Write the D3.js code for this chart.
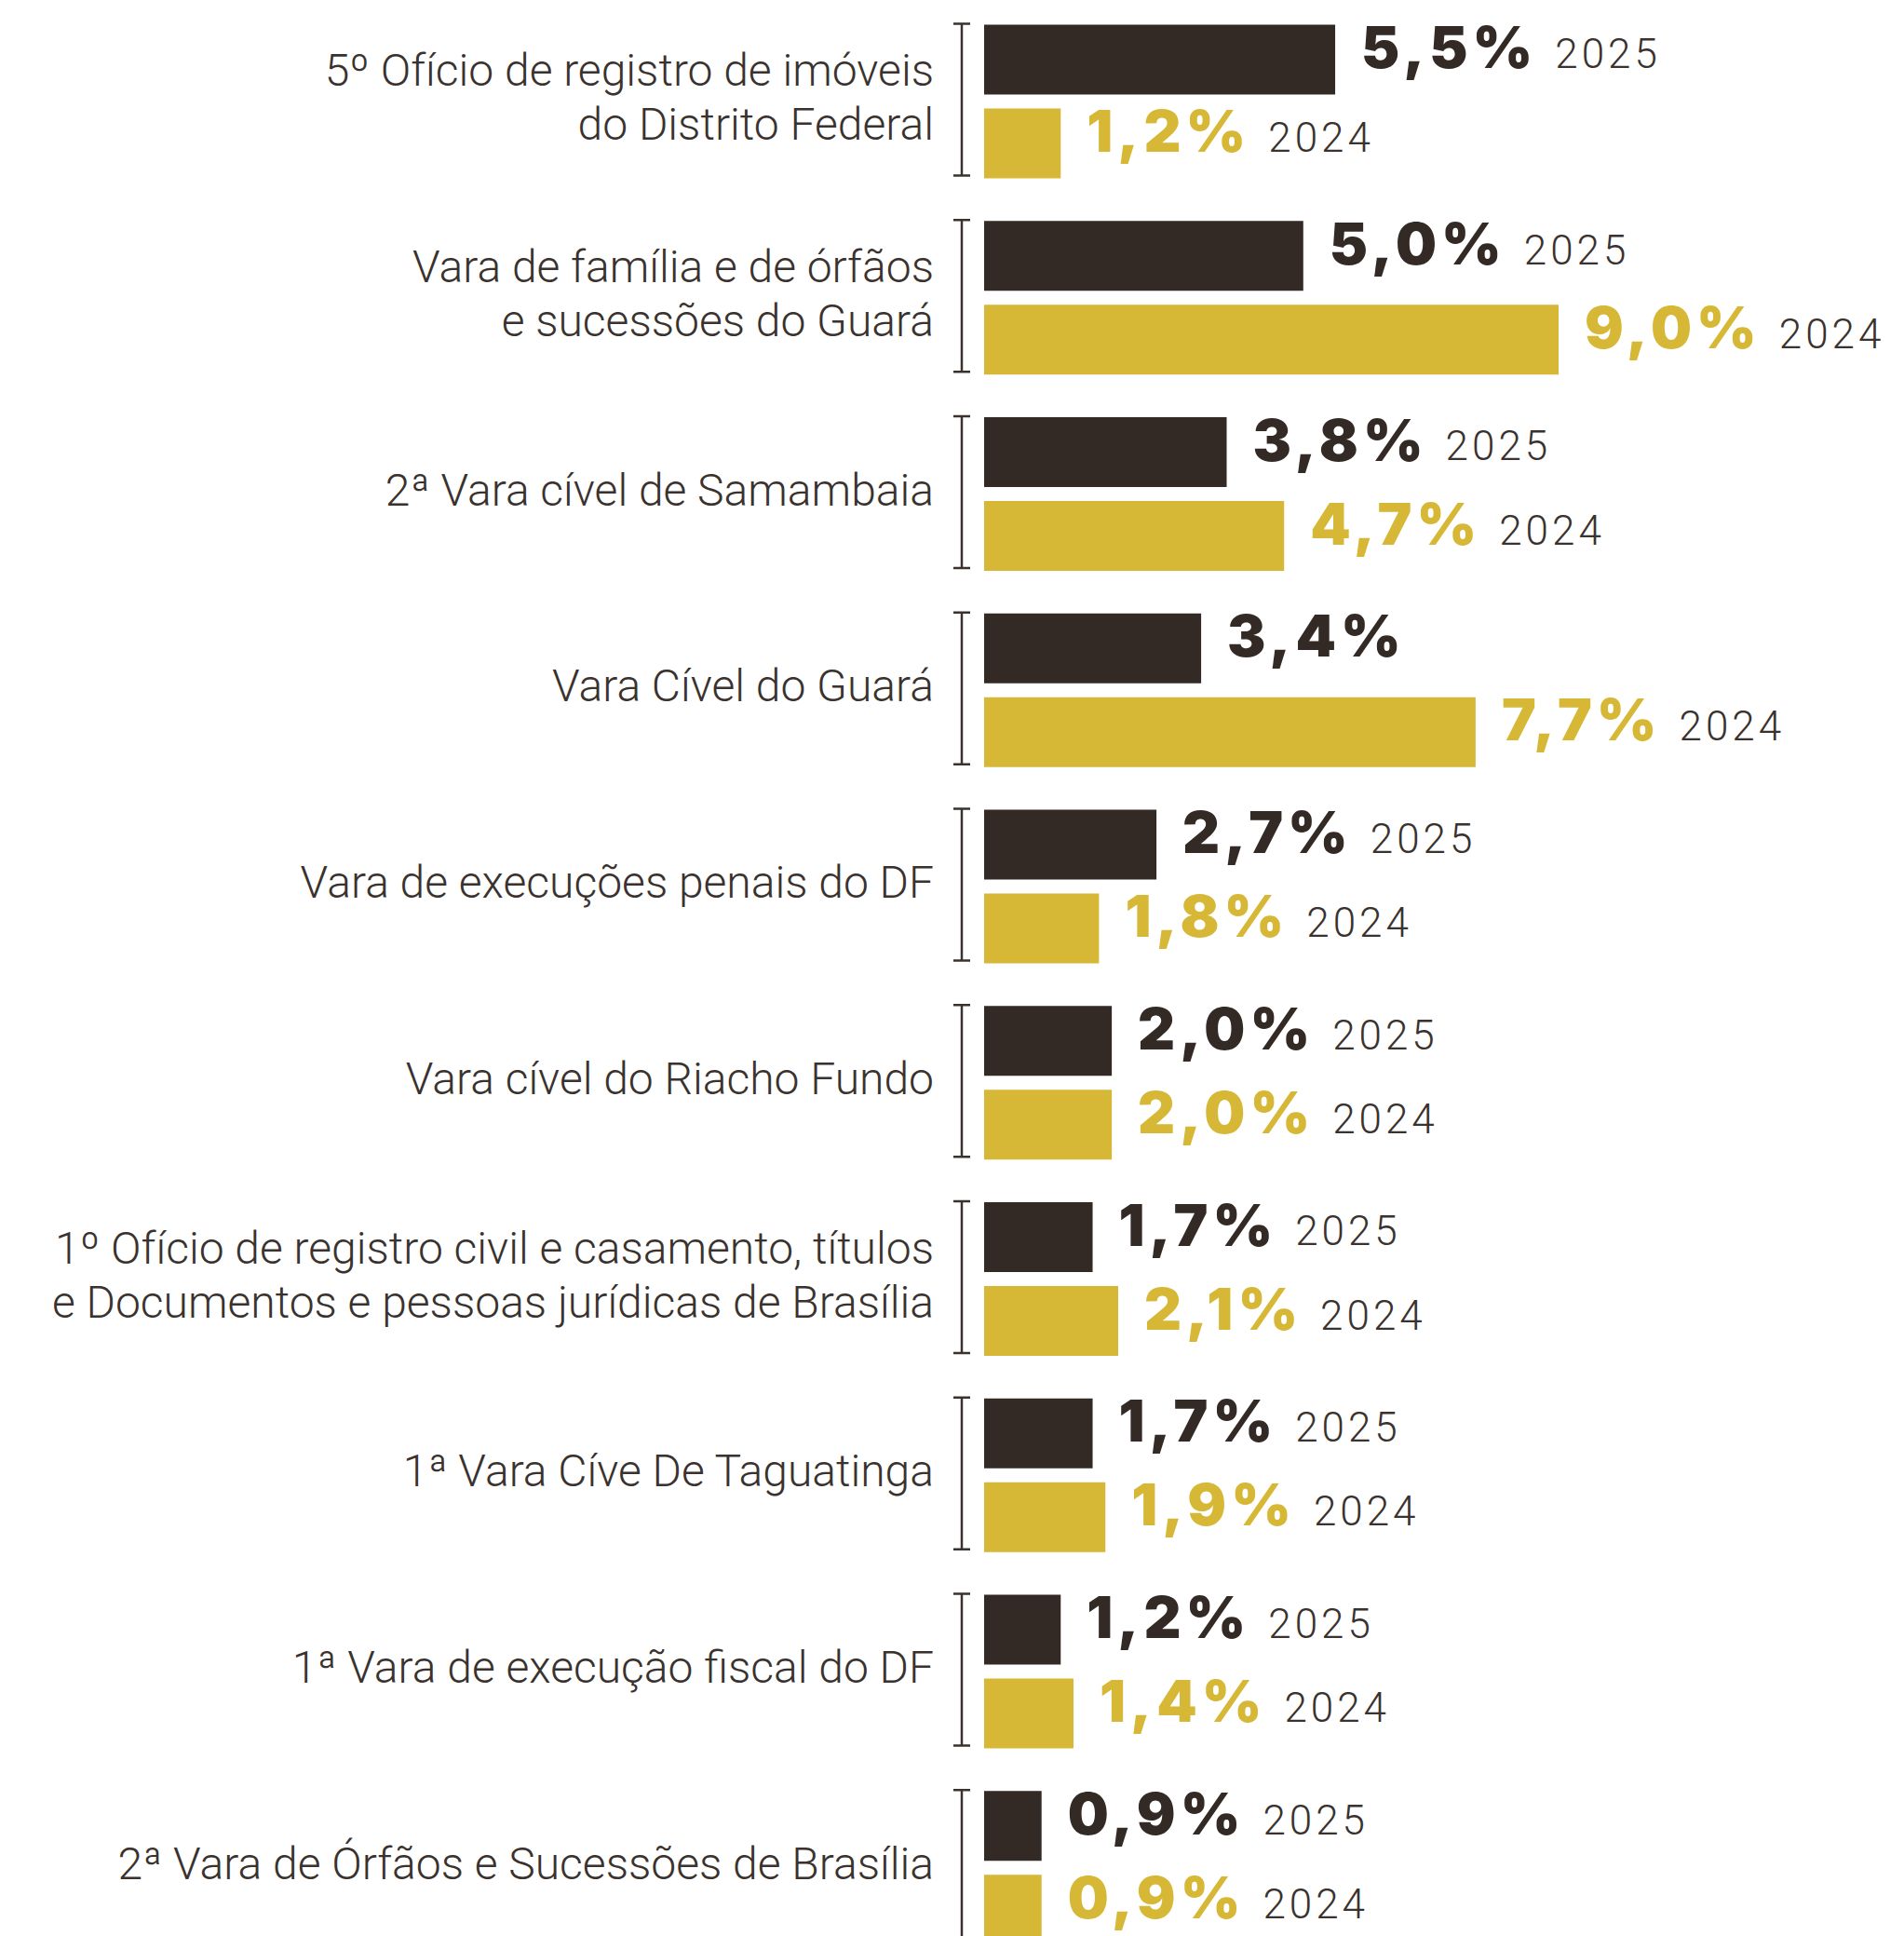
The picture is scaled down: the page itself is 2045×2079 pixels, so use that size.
<!DOCTYPE html>
<html lang="pt-BR">
<head>
<meta charset="utf-8">
<script src="https://cdn.jsdelivr.net/npm/d3@7"></script>
<style>
  html, body { margin: 0; padding: 0; background: #ffffff; }
  svg { display: block; }
</style>
</head>
<body>
<svg id="chart"></svg>
<script>
// Unidades do TJDFT e participação percentual em 2025 e 2024
const categories = [
  ["5º Ofício de registro de imóveis", "do Distrito Federal"],
  ["Vara de família e de órfãos", "e sucessões do Guará"],
  ["2ª Vara cível de Samambaia"],
  ["Vara Cível do Guará"],
  ["Vara de execuções penais do DF"],
  ["Vara cível do Riacho Fundo"],
  ["1º Ofício de registro civil e casamento, títulos", "e Documentos e pessoas jurídicas de Brasília"],
  ["1ª Vara Cíve De Taguatinga"],
  ["1ª Vara de execução fiscal do DF"],
  ["2ª Vara de Órfãos e Sucessões de Brasília"]
];
const values2025 = [5.5, 5.0, 3.8, 3.4, 2.7, 2.0, 1.7, 1.7, 1.2, 0.9];
const values2024 = [1.2, 9.0, 4.7, 7.7, 1.8, 2.0, 2.1, 1.9, 1.4, 0.9];
const years = ["2025", "2024"];
// the year tag beside each value (empty where none is printed)
const yearTags2025 = ["2025", "2025", "2025", "", "2025", "2025", "2025", "2025", "2025", "2025"];
const yearTags2024 = ["2024", "2024", "2024", "2024", "2024", "2024", "2024", "2024", "2024", "2024"];

const W = 2045, H = 2079;
const colors = { "2025": "#342a25", "2024": "#d6b836" };
const textColor = "#3a322e";

const svg = d3.select("#chart").attr("width", W).attr("height", H);
svg.append("rect").attr("width", W).attr("height", H).attr("fill", "#ffffff");

const ids = categories.map((c, i) => i);
const y = d3.scaleBand().domain(ids).range([25.5, 25.5 + 210.75 * ids.length]).padding(0);
const ySub = d3.scaleBand().domain(years).range([1, 166]).paddingInner(0.1667);
const x = d3.scaleLinear().domain([0, 9]).range([1057, 1057 + 617]);

const ptBR = d3.formatLocale({ decimal: ",", thousands: ".", grouping: [3], currency: ["R$", ""] });
const fmt = v => ptBR.format(".1f")(v) + "%";

const rows = ids.map(i => ({
  i,
  lines: categories[i],
  bars: [
    { year: "2025", value: values2025[i], tag: yearTags2025[i] },
    { year: "2024", value: values2024[i], tag: yearTags2024[i] }
  ]
}));

const groups = svg.selectAll("g.row").data(rows).join("g")
  .attr("class", "row")
  .attr("transform", d => `translate(0,${y(d.i)})`);

// bracket
const bx = 1033;
groups.append("line").attr("x1", bx).attr("x2", bx).attr("y1", 0).attr("y2", 163)
  .attr("stroke", textColor).attr("stroke-width", 2.5);
groups.append("line").attr("x1", bx - 9).attr("x2", bx + 9).attr("y1", 0).attr("y2", 0)
  .attr("stroke", textColor).attr("stroke-width", 2.5);
groups.append("line").attr("x1", bx - 9).attr("x2", bx + 9).attr("y1", 163).attr("y2", 163)
  .attr("stroke", textColor).attr("stroke-width", 2.5);

// category labels, right-aligned
const lineH = 58;
const mid = 82.5;
groups.each(function (d) {
  const g = d3.select(this);
  const n = d.lines.length;
  d.lines.forEach((line, k) => {
    const by = mid + 13 + (k - (n - 1) / 2) * lineH;
    g.append("text")
      .attr("x", 1003)
      .attr("y", by)
      .attr("text-anchor", "end")
      .attr("font-family", "Roboto, 'Noto Sans', sans-serif")
      .attr("font-weight", 300)
      .attr("font-size", 48)
      .attr("fill", textColor)
      .text(line);
  });
});

// bars
const bars = groups.selectAll("g.bar").data(d => d.bars).join("g").attr("class", "bar");
bars.append("rect")
  .attr("x", x(0))
  .attr("y", d => ySub(d.year))
  .attr("width", d => x(d.value) - x(0))
  .attr("height", ySub.bandwidth())
  .attr("fill", d => colors[d.year]);

// value labels and year tags
bars.each(function (d) {
  const g = d3.select(this);
  const base = ySub(d.year) + ySub.bandwidth() / 2 + 9;
  const val = g.append("text")
    .attr("x", x(d.value) + 28)
    .attr("y", base)
    .attr("font-family", "Inter, Lato, sans-serif")
    .attr("font-weight", 900)
    .attr("font-size", 62)
    .attr("letter-spacing", 5)
    .attr("fill", colors[d.year])
    .text(fmt(d.value));
  if (d.tag) {
    const w = val.node().getComputedTextLength();
    g.append("text")
      .attr("x", x(d.value) + 28 + w + 19)
      .attr("y", base)
      .attr("font-family", "Roboto, 'Noto Sans', sans-serif")
      .attr("font-weight", 300)
      .attr("font-size", 44)
      .attr("letter-spacing", 4)
      .attr("fill", textColor)
      .text(d.tag);
  }
});
</script>
</body>
</html>
